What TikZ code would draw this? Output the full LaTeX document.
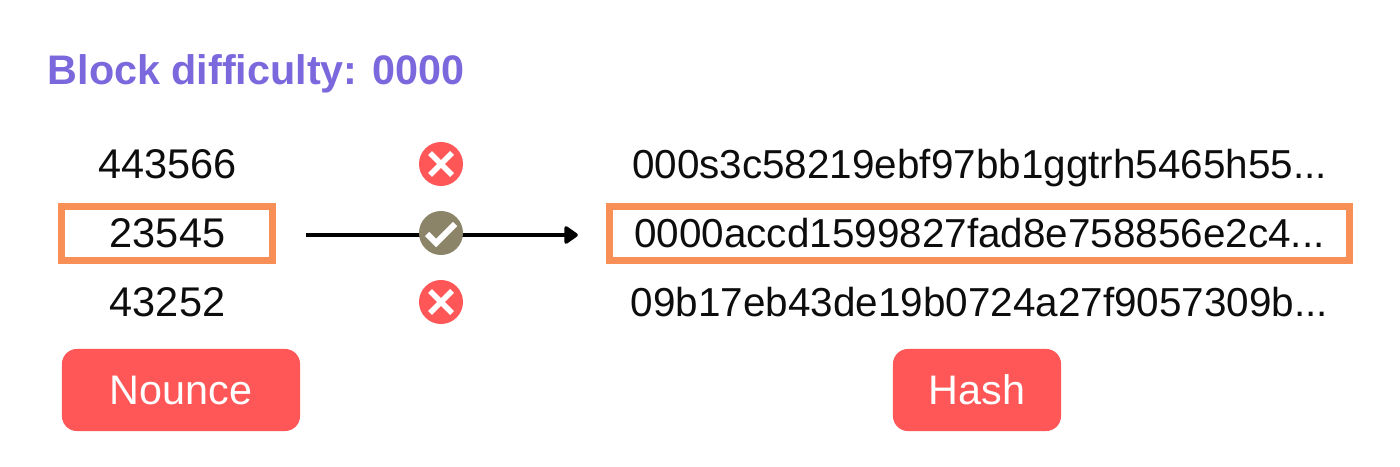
\documentclass[tikz,border=0pt]{standalone}
\usepackage{fontspec}
\setmainfont{Liberation Sans}
\usetikzlibrary{arrows.meta,calc}
\definecolor{redbtn}{HTML}{FF5757}
\definecolor{orangebox}{HTML}{F78F56}
\definecolor{purpletitle}{HTML}{7B68DC}
\definecolor{greenmix}{HTML}{8B8468}
\begin{document}
\begin{tikzpicture}[x=.01cm,y=-.01cm,
rowtext/.style={anchor=base,font=\fontsize{11.8}{14}\selectfont,text=black!95,inner sep=0},
longtext/.style={rowtext,font=\fontsize{11.5}{14}\selectfont},
hashbox/.style={draw=orangebox,line width=.07cm,inner sep=0},
btn/.style={fill=redbtn,rounded corners=.15cm,text=white,font=\fontsize{11.75}{14}\selectfont,inner sep=0},
iconbase/.style={circle,inner sep=0,minimum size=.44cm},
tick/.style={draw=white,line width=.055cm}]
\useasboundingbox(0,0)rectangle(1400,467);
\node[anchor=west,inner sep=0,text=purpletitle,font=\fontsize{11.75}{14}\bfseries\selectfont](title)at(47,74){Block difficulty: 0000};
% left column
\node[rowtext](n1)at(167.5,179){443566};
\node[rowtext](n2)at(167.5,248){23545};
\node[rowtext](n3)at(167.5,317){43252};
\node[hashbox,minimum width=2.11cm,minimum height=.53cm](n2box)at(167,233.5){};
\node[btn,minimum width=2.38cm,minimum height=.82cm](nounce)at(181,390){Nounce};
% right column
\node[longtext](h1)at(979.5,179){000s3c58219ebf97bb1ggtrh5465h55...};
\node[longtext](h2)at(979.5,248){0000accd1599827fad8e758856e2c4...};
\node[longtext](h3)at(979.5,317){09b17eb43de19b0724a27f9057309b...};
\node[hashbox,minimum width=7.4cm,minimum height=.53cm](h2box)at(979.5,233.5){};
\node[btn,minimum width=1.68cm,minimum height=.82cm](hash)at(977,390){Hash};
% marks
\draw[line width=.04cm,-{Triangle[round,length=.15cm,width=.2cm]},shorten <=.3cm,shorten >=.28cm]($(n2box.east)+(0,1.5)$)--($(h2box.west)+(0,1.5)$);
\node[iconbase,fill=redbtn](m1)at(441,164){};
\node[iconbase,fill=greenmix](m2)at(441,233){};
\node[iconbase,fill=redbtn](m3)at(441,302){};
\foreach\m in{m1,m3}{
\draw[tick]($(\m)+(-11,-11)$)--($(\m)+(11,11)$);
\draw[tick]($(\m)+(-11,11)$)--($(\m)+(11,-11)$);}
\draw[tick,line width=.06cm]($(m2)+(-14,1)$)--($(m2)+(-5,10)$)--($(m2)+(14,-9)$);
\end{tikzpicture}
\end{document}
